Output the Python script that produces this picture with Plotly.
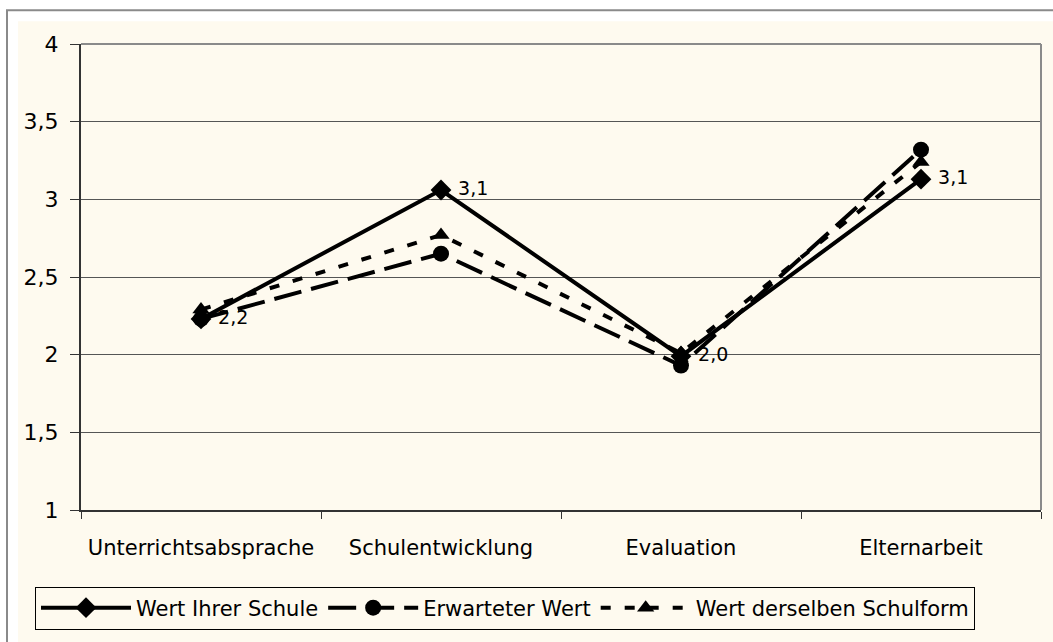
import plotly.graph_objects as go

categories = ["Unterrichtsabsprache", "Schulentwicklung", "Evaluation", "Elternarbeit"]

wert_ihrer_schule = [2.23, 3.06, 1.99, 3.13]
erwarteter_wert = [2.23, 2.65, 1.93, 3.32]
wert_schulform = [2.29, 2.77, 2.01, 3.24]

y_ticks = [1, 1.5, 2, 2.5, 3, 3.5, 4]

cream = "#FEFAEF"
font_name = "DejaVu Sans"

# plot area in pixels: left 81, right 1041, top 44, bottom 513
L, R, T, B = 81, 12, 44, 129
W, H = 1053 - L - R, 642 - T - B


def px(x):
    return (x - L) / W


def py(y):
    return (642 - B - y) / H


fig = go.Figure()

fig.add_trace(go.Scatter(
    x=categories, y=wert_ihrer_schule, name="Wert Ihrer Schule",
    mode="lines+markers+text",
    line=dict(color="black", width=4),
    marker=dict(symbol="diamond", size=16, color="black"),
    texttemplate=" %{y:.1f}", textposition="middle right",
    textfont=dict(size=19, color="black", family=font_name),
    cliponaxis=False))

fig.add_trace(go.Scatter(
    x=categories, y=erwarteter_wert, name="Erwarteter Wert",
    mode="lines+markers",
    line=dict(color="black", width=4, dash="28px,10px"),
    marker=dict(symbol="circle", size=16, color="black")))

fig.add_trace(go.Scatter(
    x=categories, y=wert_schulform, name="Wert derselben Schulform",
    mode="lines+markers",
    line=dict(color="black", width=4, dash="10px,14px"),
    marker=dict(symbol="triangle-up", size=15, color="black")))

# outer frame and cream chart area
fig.add_shape(type="rect", xref="paper", yref="paper",
              x0=px(7), x1=px(1070), y0=py(660), y1=py(10),
              line=dict(color="#8a8a8a", width=2), fillcolor="white", layer="below")
fig.add_shape(type="rect", xref="paper", yref="paper",
              x0=px(18), x1=px(1070), y0=py(660), y1=py(21),
              line=dict(width=0), fillcolor=cream, layer="below")
# grey top / right border of plot area
fig.add_shape(type="line", xref="paper", yref="paper", x0=0, x1=1, y0=1, y1=1,
              line=dict(color="#8a8a8a", width=2))
fig.add_shape(type="line", xref="paper", yref="paper", x0=1, x1=1, y0=0, y1=1,
              line=dict(color="#8a8a8a", width=2))

fig.update_xaxes(
    type="category", range=[-0.5, 3.5], tickson="boundaries",
    ticks="outside", ticklen=7, tickcolor="#333", tickwidth=1,
    showline=True, linecolor="#333", linewidth=2, showgrid=False,
    tickfont=dict(size=21, color="black", family=font_name),
    ticklabelstandoff=18)

fig.update_yaxes(
    range=[1, 4], tickvals=y_ticks,
    ticks="outside", ticklen=9, tickcolor="#333", tickwidth=1,
    showline=True, linecolor="#333", linewidth=2,
    showgrid=True, gridcolor="#555", gridwidth=1, zeroline=False,
    tickfont=dict(size=22, color="black", family=font_name),
    ticklabelstandoff=7)

fig.update_layout(
    width=1053, height=642,
    margin=dict(l=L, r=R, t=T, b=B),
    separators=", ",
    paper_bgcolor="white", plot_bgcolor=cream,
    font=dict(family=font_name, color="black"),
    showlegend=True,
    legend=dict(orientation="h", x=px(35), y=py(590), xanchor="left", yanchor="top",
                bgcolor=cream, bordercolor="black", borderwidth=1,
                font=dict(size=21, color="black", family=font_name),
                itemwidth=90))

fig.write_html("out.html", config={"displayModeBar": False},
               post_script="document.body.style.margin='0';")
